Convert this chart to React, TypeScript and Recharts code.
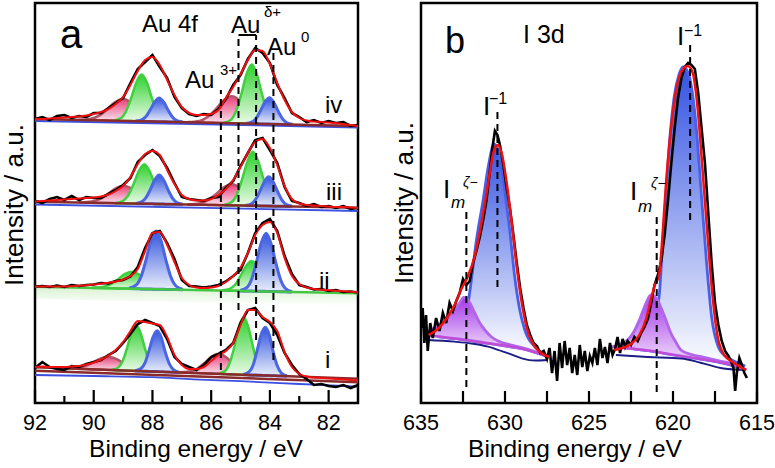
import React from 'react';
import { ComposedChart, Area, Line, XAxis, YAxis, ReferenceLine, ReferenceArea } from 'recharts';

const FONT = '"Liberation Sans", Arial, Helvetica, sans-serif';

// ---------- Panel a: Au 4f ----------
const gridA = [92, 91.75, 91.5, 91.25, 91, 90.75, 90.5, 90.25, 90, 89.75, 89.5, 89.25, 89, 88.75, 88.5, 88.25, 88, 87.75, 87.5, 87.25, 87, 86.75, 86.5, 86.25, 86, 85.75, 85.5, 85.25, 85, 84.75, 84.5, 84.25, 84, 83.75, 83.5, 83.25, 83, 82.75, 82.5, 82.25, 82, 81.75, 81.5, 81.25, 81];
const ticksA = [92, 91, 90, 89, 88, 87, 86, 85, 84, 83, 82];
const majorA = [92, 90, 88, 86, 84, 82];

const ivFit = [284, 284, 284.5, 285, 285.5, 286, 286.5, 287.5, 289, 291, 294, 299, 306, 318, 332, 343, 346, 338, 323, 308, 296, 290, 288, 288, 289, 293, 305, 316, 329, 343, 353, 352, 339, 320, 303, 291, 285, 282.5, 281.5, 281, 280.5, 280, 279, 278, 277];
const ivData = [284, 286, 283, 287, 288, 285, 287, 286, 290, 290, 295, 300, 305, 320, 334, 341, 348, 336, 325, 306, 295, 289, 287, 289, 288, 294, 304, 318, 328, 344, 355, 350, 340, 318, 305, 290, 286, 281, 283, 280, 282, 280, 281, 277, 278];
const iiiFit = [201.5, 202, 202.5, 203, 203.5, 204, 204.5, 205, 205.5, 206.5, 208.5, 212, 217, 226, 239, 249, 252, 248, 233, 219, 208, 204, 202.5, 202.5, 204, 208, 214, 223, 236, 250, 261, 264, 255, 238, 217, 204, 199.5, 198, 197.5, 197, 196.5, 196, 196, 195.5, 195];
const iiiData = [202, 200, 204, 206, 203, 207, 203, 206, 205, 205, 209, 213, 218, 225, 241, 248, 253, 247, 235, 220, 206, 204, 203, 202, 205, 206, 215, 222, 237, 250, 263, 265, 253, 240, 216, 202, 200, 197, 199, 196, 197, 195, 197, 194, 195];
const iiFit = [116.5, 116.5, 116.5, 116.5, 116.5, 116.8, 117.2, 117.8, 118.5, 119.3, 120.2, 121.5, 123.5, 127, 134, 152, 170, 171, 158, 141, 125, 118, 115.5, 115, 115.5, 117, 121, 127, 135.5, 150, 168, 178, 181, 170, 145, 127, 119, 115.5, 114, 113.3, 112.8, 112.3, 111.8, 111.3, 110.8];
const iiData = [116.5, 117, 116, 117.5, 116, 118, 117, 118, 118.5, 120, 119.5, 122, 123, 126.5, 136, 155, 170, 172, 160, 144, 123, 117, 116.5, 115.5, 116.5, 118, 121.5, 127, 133, 150, 170, 180, 184, 172, 147, 129, 118, 116, 113.5, 114, 112, 113, 111, 111.5, 110.5];
const iFit = [36, 36.5, 36, 36, 36, 36.5, 37, 38.5, 40.5, 43.5, 47.5, 53, 61, 72, 82, 81, 79.5, 78, 66, 48, 38, 34, 34, 36, 42, 48, 52, 60, 78, 93, 93, 86, 81, 72, 51, 36, 29, 26.5, 25.5, 25, 24.5, 24, 23.5, 23, 22.5];
const iData = [35, 41, 36, 34, 33, 37, 36, 39, 41, 43, 48, 52, 60, 69, 79, 83, 80, 77, 64, 46, 39, 36, 33, 38, 46, 49, 53, 60, 80, 93, 95, 85, 80, 68, 50, 38, 29, 24, 18, 19, 17, 16, 18, 15, 18];

// baselines [eV, value]
const ivBrown = [[92, 284], [81, 277]];
const ivBlueBg = [[92, 282], [81, 275.5]];
const iiiBrown = [[92, 201.3], [81, 195.3]];
const iiiBlueBg = [[92, 198.5], [81, 192]];
const iiGreenBg = [[92, 116.3], [81, 109.7]];
const iiBand = [[92, 104, 116.3], [81, 97.5, 109.7]];
const iBrown1 = [[92, 35.7], [81, 24.2]];
const iBrown2 = [[92, 32.3], [81, 20.8]];
const iBlueBg = [[92, 28], [90, 27], [88, 25.8], [86.6, 23.7], [85, 21.8], [83, 19], [81.5, 17], [81, 16.3]];

// components [eV, low, high]
const ivPink1 = [[90.5, 283, 283.1], [90.1, 282.8, 284.2], [89.8, 282.6, 287.6], [89.55, 282.4, 293.4], [89.3, 282.3, 300.3], [89.0, 282.1, 304.1], [88.7, 281.9, 299.9], [88.45, 281.7, 292.7], [88.2, 281.6, 286.6], [87.9, 281.4, 282.8], [87.5, 281.1, 281.2]];
const ivGreen1 = [[89.32, 282.3, 282.6], [89.07, 282.1, 285], [88.9, 282, 291.8], [88.72, 281.9, 305.3], [88.55, 281.8, 320.6], [88.37, 281.7, 328.4], [88.19, 281.6, 320.4], [88.02, 281.5, 304.9], [87.84, 281.4, 291.2], [87.67, 281.3, 284.2], [87.42, 281.1, 281.4]];
const ivBlue1 = [[88.57, 281.8, 281.95], [88.37, 281.7, 283.2], [88.22, 281.6, 286.6], [88.07, 281.5, 293.4], [87.92, 281.4, 301.2], [87.77, 281.3, 305.1], [87.62, 281.2, 301], [87.47, 281.1, 293], [87.32, 281, 286], [87.17, 280.9, 282.4], [86.97, 280.8, 280.95]];
const ivPink2 = [[86.8, 280.7, 280.9], [86.4, 280.4, 282.1], [86.1, 280.3, 286.5], [85.85, 280.1, 293.6], [85.6, 279.9, 302], [85.3, 279.7, 306.7], [85.0, 279.5, 301.6], [84.75, 279.4, 292.9], [84.5, 279.2, 285.4], [84.2, 279, 280.7], [83.8, 278.8, 279]];
const ivGreen2 = [[85.57, 279.9, 280.3], [85.32, 279.7, 283.4], [85.15, 279.6, 292.1], [84.97, 279.5, 309.2], [84.8, 279.4, 328.6], [84.62, 279.3, 338.6], [84.44, 279.2, 328.4], [84.27, 279.1, 308.8], [84.09, 279, 291.5], [83.92, 278.9, 282.6], [83.67, 278.7, 279.1]];
const ivBlue2 = [[84.82, 279.4, 279.56], [84.62, 279.3, 280.95], [84.47, 279.2, 284.7], [84.32, 279.1, 292.3], [84.17, 279, 300.9], [84.02, 278.9, 305.3], [83.87, 278.8, 300.7], [83.72, 278.7, 291.9], [83.57, 278.6, 284.1], [83.42, 278.5, 280.15], [83.22, 278.4, 278.56]];

const iiiPink1 = [[90.48, 200.5, 200.6], [90.08, 200.3, 201.4], [89.78, 200.1, 204.1], [89.53, 200, 208.8], [89.28, 199.8, 214.2], [88.98, 199.7, 217.3], [88.68, 199.5, 213.9], [88.43, 199.4, 208.2], [88.18, 199.2, 203.2], [87.88, 199.1, 200.2], [87.48, 198.8, 198.9]];
const iiiGreen1 = [[89.26, 199.8, 200], [89.0, 199.7, 202.2], [88.82, 199.6, 207.9], [88.64, 199.5, 219.2], [88.46, 199.4, 232.1], [88.28, 199.3, 238.7], [88.1, 199.2, 231.9], [87.92, 199.1, 218.8], [87.74, 199, 207.3], [87.56, 198.9, 201.4], [87.3, 198.8, 199]];
const iiiBlue1 = [[88.57, 199.4, 199.6], [88.37, 199.3, 201.1], [88.22, 199.2, 205.3], [88.07, 199.2, 213.7], [87.92, 199.1, 223.2], [87.77, 199, 228], [87.62, 198.9, 223], [87.47, 198.8, 213.3], [87.32, 198.8, 204.9], [87.17, 198.7, 200.5], [86.97, 198.6, 198.8]];
const iiiPink2 = [[86.8, 198.5, 198.6], [86.4, 198.2, 199.5], [86.1, 198.1, 203], [85.85, 197.9, 208.5], [85.6, 197.8, 215.1], [85.3, 197.6, 218.7], [85.0, 197.5, 214.8], [84.75, 197.3, 207.9], [84.5, 197.2, 202.1], [84.2, 197, 198.3], [83.8, 196.8, 196.9]];
const iiiGreen2 = [[85.56, 197.8, 198.1], [85.3, 197.6, 201], [85.12, 197.5, 208.8], [84.94, 197.4, 224.4], [84.76, 197.3, 242.1], [84.58, 197.2, 251.2], [84.4, 197.1, 241.9], [84.22, 197, 224], [84.04, 196.9, 208.2], [83.86, 196.8, 200.2], [83.6, 196.7, 197]];
const iiiBlue2 = [[84.84, 197.4, 197.6], [84.64, 197.2, 199], [84.49, 197.2, 203.4], [84.34, 197.1, 211.8], [84.19, 197, 221.3], [84.04, 196.9, 226.2], [83.89, 196.9, 221.2], [83.74, 196.8, 211.5], [83.59, 196.7, 202.9], [83.44, 196.6, 198.4], [83.24, 196.5, 196.7]];

const iiGreen1 = [[90.05, 115.1, 115.2], [89.7, 114.9, 116], [89.45, 114.8, 118.4], [89.2, 114.6, 123.1], [88.95, 114.5, 128.8], [88.7, 114.3, 131.3], [88.45, 114.2, 128.5], [88.2, 114, 122.5], [87.95, 113.9, 117.5], [87.7, 113.7, 114.8], [87.35, 113.5, 113.6]];
const iiBlue1 = [[88.8, 114.4, 114.75], [88.56, 114.2, 117.8], [88.39, 114.1, 126.3], [88.22, 114, 143.1], [88.05, 113.9, 162.8], [87.88, 113.8, 172], [87.71, 113.7, 162.6], [87.54, 113.6, 142.7], [87.37, 113.5, 125.7], [87.2, 113.4, 117], [86.96, 113.3, 113.65]];
const iiGreen2 = [[85.62, 112.5, 112.7], [85.37, 112.3, 114.2], [85.18, 112.2, 118.5], [85.0, 112.1, 127.1], [84.81, 112, 137.1], [84.62, 111.9, 142], [84.43, 111.8, 136.9], [84.24, 111.6, 126.6], [84.06, 111.5, 117.8], [83.87, 111.4, 113.3], [83.62, 111.3, 111.5]];
const iiBlue2 = [[85.01, 112.1, 112.45], [84.78, 112, 115.6], [84.62, 111.9, 124.1], [84.46, 111.8, 140.8], [84.29, 111.7, 160.5], [84.13, 111.6, 169.7], [83.97, 111.5, 160.3], [83.8, 111.4, 140.4], [83.64, 111.3, 123.5], [83.48, 111.2, 114.8], [83.25, 111, 111.35]];

const iPink1 = [[91, 34.6, 34.7], [90.6, 34.2, 35], [90.3, 33.9, 36.9], [90.05, 33.6, 40.2], [89.8, 33.4, 44.2], [89.5, 33.1, 46.3], [89.2, 32.8, 43.6], [88.95, 32.5, 39.1], [88.7, 32.2, 35.2], [88.4, 31.9, 32.7], [88.0, 31.5, 31.6]];
const iGreen1 = [[89.36, 32.9, 33.2], [89.16, 32.7, 35.6], [89.01, 32.6, 42.2], [88.86, 32.4, 55.4], [88.71, 32.2, 70.8], [88.56, 32.1, 78], [88.41, 31.9, 70.5], [88.26, 31.8, 54.8], [88.11, 31.6, 41.2], [87.96, 31.5, 34.4], [87.76, 31.3, 31.6]];
const iBlue1 = [[88.58, 32.1, 32.35], [88.39, 31.9, 34.5], [88.25, 31.8, 40.4], [88.12, 31.6, 52.1], [87.98, 31.5, 65.9], [87.84, 31.4, 72.3], [87.7, 31.2, 65.6], [87.57, 31.1, 51.6], [87.43, 30.9, 39.5], [87.29, 30.8, 33.4], [87.1, 30.6, 30.85]];
const iPink2 = [[87.09, 30.6, 30.7], [86.74, 30.2, 31.5], [86.49, 29.9, 34.1], [86.24, 29.7, 39.7], [85.99, 29.4, 46.3], [85.74, 29.2, 49.3], [85.49, 28.9, 45.8], [85.24, 28.6, 38.6], [84.99, 28.4, 32.6], [84.74, 28.1, 29.4], [84.39, 27.8, 27.9]];
const iGreen2 = [[85.73, 29.2, 29.5], [85.51, 28.9, 32.5], [85.36, 28.8, 40.9], [85.2, 28.6, 57.3], [85.05, 28.4, 76.6], [84.89, 28.3, 85.7], [84.74, 28.1, 76.3], [84.58, 28, 56.7], [84.43, 27.8, 39.9], [84.27, 27.6, 31.2], [84.05, 27.4, 27.7]];
const iBlue2 = [[84.9, 28.3, 28.6], [84.71, 28.1, 31.1], [84.57, 28, 38.1], [84.44, 27.8, 51.9], [84.3, 27.7, 68.2], [84.16, 27.5, 75.7], [84.02, 27.4, 67.9], [83.89, 27.3, 51.4], [83.75, 27.1, 37.2], [83.61, 27, 30], [83.42, 26.8, 27.1]];

// dashed markers [eV, yFrom, yTo]
const dashA = [[85.67, 33, 313], [85.07, 93, 368], [84.47, 63, 368], [83.88, 43, 350]];
const bracketA = [[85.07, 368], [84.47, 368]];

// ---------- Panel b: I 3d ----------
const ticksB = [635, 632.5, 630, 627.5, 625, 622.5, 620, 617.5, 615];
const majorB = [635, 630, 625, 620, 615];

const bData = [[635, 75], [634.9, 95], [634.8, 60], [634.7, 88], [634.6, 52], [634.45, 80], [634.3, 65], [634.1, 85], [633.9, 72], [633.7, 90], [633.5, 80], [633.3, 100], [633.1, 92], [632.9, 102], [632.7, 110], [632.5, 124], [632.3, 118], [632.1, 122], [631.9, 140], [631.7, 152], [631.5, 166], [631.3, 183], [631.1, 203], [630.9, 232], [630.75, 255], [630.6, 272], [630.45, 268], [630.3, 258], [630.1, 238], [629.9, 215], [629.7, 194], [629.5, 168], [629.3, 140], [629.1, 115], [628.9, 95], [628.7, 78], [628.5, 68], [628.3, 60], [628.1, 57], [627.9, 50], [627.7, 52], [627.5, 44], [627.35, 55], [627.2, 30], [627.05, 52], [626.9, 22], [626.75, 60], [626.6, 35], [626.45, 62], [626.3, 38], [626.15, 55], [626.0, 30], [625.85, 48], [625.7, 28], [625.55, 58], [625.4, 36], [625.25, 52], [625.1, 32], [624.95, 47], [624.8, 40], [624.65, 55], [624.5, 38], [624.35, 64], [624.2, 45], [624.05, 56], [623.9, 40], [623.75, 60], [623.6, 48], [623.45, 54], [623.3, 66], [623.15, 50], [623.0, 64], [622.85, 56], [622.7, 62], [622.5, 58], [622.3, 66], [622.1, 62], [621.9, 70], [621.7, 76], [621.5, 84], [621.3, 100], [621.1, 118], [620.9, 128], [620.7, 142], [620.5, 168], [620.3, 202], [620.1, 240], [619.9, 275], [619.7, 305], [619.5, 325], [619.3, 336], [619.1, 340], [618.9, 338], [618.7, 334], [618.5, 310], [618.3, 275], [618.1, 240], [617.9, 190], [617.7, 140], [617.5, 100], [617.3, 78], [617.1, 62], [616.9, 52], [616.7, 47], [616.55, 42], [616.4, 35], [616.3, 12], [616.2, 30], [616.05, 45], [615.9, 38], [615.75, 30], [615.6, 25]];
const bRedL = [[634.55, 68], [634.0, 74], [633.5, 84], [633.0, 98], [632.6, 114], [632.2, 127], [631.8, 147], [631.4, 180], [631.0, 220], [630.7, 250], [630.45, 258], [630.2, 250], [629.9, 220], [629.6, 180], [629.3, 136], [629.0, 100], [628.7, 75], [628.2, 56], [627.35, 46]];
const bRedR = [[623.5, 53], [623.0, 55], [622.5, 59], [622.0, 68], [621.6, 84], [621.3, 104], [621.1, 117], [620.83, 128], [620.63, 166], [620.43, 216], [620.13, 273], [619.73, 320], [619.4, 334], [619.13, 337], [618.84, 331], [618.54, 296], [618.24, 233], [617.94, 166], [617.64, 106], [617.34, 66], [616.95, 48], [616.35, 40], [615.65, 33]];
const bBlueL = [[634.0, 66.5, 66.6], [633.4, 65.1, 67.5], [632.9, 64.3, 76], [632.5, 63.5, 88], [632.2, 62.8, 100], [631.95, 62.2, 130], [631.7, 61.5, 163], [631.3, 60.5, 203], [631.0, 59.7, 236], [630.65, 58.9, 259], [630.32, 58, 246], [630.02, 57.2, 213], [629.72, 56.4, 173], [629.42, 55.6, 126], [629.12, 54.8, 93], [628.82, 53.8, 73], [628.23, 50.8, 56.3], [627.45, 46.3, 47]];
const bPurpleL = [[634.6, 68, 71], [634.2, 67, 75], [633.8, 66, 80], [633.4, 65.1, 86], [633.0, 64.5, 93], [632.7, 64, 100], [632.45, 63.4, 105.7], [632.2, 62.8, 103], [631.8, 61.8, 90], [631.5, 61, 80], [631.2, 60.2, 73], [630.8, 59.2, 66], [630.4, 58.2, 62], [629.5, 55.8, 57.5], [628.5, 52, 53], [627.45, 46.3, 47]];
const bBlueR = [[622.3, 54, 54.1], [621.8, 53, 58], [621.4, 52.2, 70], [621.1, 51.5, 88], [620.83, 50.8, 106], [620.63, 50.2, 156], [620.43, 49.4, 206], [620.23, 49, 256], [619.93, 48.1, 306], [619.65, 47.4, 328], [619.4, 46.7, 336], [619.15, 46.1, 332], [618.9, 45.4, 316], [618.6, 44.7, 273], [618.3, 43.8, 206], [618.0, 43, 140], [617.7, 42.1, 86], [617.3, 40.8, 56], [616.9, 39.4, 47], [616.5, 37.5, 43], [615.7, 33.5, 37]];
const bPurpleR = [[623.6, 56.3, 56.4], [623.2, 55.6, 58], [622.7, 54.7, 63], [622.3, 54, 72], [622.0, 53.4, 83], [621.6, 52.7, 100], [621.32, 52.1, 108], [621.0, 51.2, 105], [620.73, 50.4, 96], [620.4, 49.4, 82], [620.13, 48.6, 70], [619.8, 47.8, 60], [619.53, 47, 53], [618.9, 45.4, 48.5], [618.34, 44, 46.3], [617.2, 41, 42], [616.15, 36, 38], [615.65, 33, 33.1]];
const bMagL = [[634.6, 68], [633.0, 64.5], [631.0, 59.7], [629.0, 54.5], [628.0, 49.5], [627.45, 46.3]];
const bMagR = [[623.6, 56.3], [621.5, 52.5], [619.9, 48], [618, 43], [616.95, 39.7], [615.65, 33]];
const bNavyL = [[634.6, 63], [633.0, 61.3], [632.0, 59.5], [631.0, 56.3], [630.3, 52.5], [629.8, 49.7], [629.0, 44.7], [628.2, 42.5], [627.45, 43]];
const bNavyR = [[623.4, 48], [621.5, 46], [619.5, 44.5], [618.3, 40], [617.0, 34.5], [615.65, 33]];
const dashB = [[632.3, 16, 191], [630.45, 116, 291], [618.98, 183, 360], [620.97, 11, 186]];

// ---------- helpers ----------
const xy = (a: number[][]) => a.map(([x, y]) => ({ x, y }));
const rg = (a: number[][]) => a.map(([x, lo, hi]) => ({ x, r: [lo, hi] }));
const onGrid = (g: number[], v: number[]) => g.map((x, i) => ({ x, y: v[i] }));

const peak = (key: string, arr: number[][], fill: string, stroke: string, sw = 2.5) => (
  <Area key={key} data={rg(arr)} dataKey="r" type="monotone" fill={fill} fillOpacity={1}
    stroke={stroke} strokeWidth={sw} dot={false} activeDot={false} isAnimationActive={false} />
);
const curve = (key: string, data: any[], color: string, w: number, type: any = 'linear') => (
  <Line key={key} data={data} dataKey="y" type={type} stroke={color} strokeWidth={w}
    dot={false} activeDot={false} isAnimationActive={false} />
);
const dashes = (prefix: string, arr: number[][]) => arr.map(([x, y1, y2], i) => (
  <ReferenceLine key={prefix + i} segment={[{ x, y: y1 }, { x, y: y2 }]} stroke="#000"
    strokeWidth={2} strokeDasharray="7 5" />
));

const makeTick = (majors: number[], lenMajor: number, lenMinor: number) => (props: any) => {
  const { x, y, payload } = props;
  const v = payload.value;
  const major = majors.includes(v);
  return (
    <g>
      <line x1={x} x2={x} y1={y} y2={y - (major ? lenMajor : lenMinor)} stroke="#000" strokeWidth={2.2} />
      {major && (
        <text x={x} y={y + 27} textAnchor="middle" fontSize={21.5} fontFamily={FONT} fill="#000">{v}</text>
      )}
    </g>
  );
};

const PINK_S = '#b0566a', GREEN_S = '#3fcf3f', BLUE_S = '#4b66e3';
const RED = '#f01010', BROWN = '#8a2a2a', BGBLUE = '#3b4fe0';

function PanelA() {
  return (
    <ComposedChart width={390} height={468} margin={{ top: 3, right: 32, bottom: 0, left: 35 }}>
      <defs>
        <linearGradient id="aPink" x1="0" y1="0" x2="0" y2="1">
          <stop offset="0" stopColor="#e8407a" />
          <stop offset="1" stopColor="#fde8f0" />
        </linearGradient>
        <linearGradient id="aGreen" x1="0" y1="0" x2="0" y2="1">
          <stop offset="0" stopColor="#2fd12f" />
          <stop offset="1" stopColor="#ecfbe9" />
        </linearGradient>
        <linearGradient id="aBlue" x1="0" y1="0" x2="0" y2="1">
          <stop offset="0" stopColor="#3355dd" />
          <stop offset="1" stopColor="#e9eefb" />
        </linearGradient>
        <linearGradient id="aBand" x1="0" y1="0" x2="0" y2="1">
          <stop offset="0" stopColor="#bfeab2" />
          <stop offset="1" stopColor="#ffffff" />
        </linearGradient>
      </defs>
      <XAxis dataKey="x" type="number" domain={[81, 92]} reversed allowDataOverflow height={65}
        ticks={ticksA} interval={0} tickSize={0} tickMargin={0} axisLine={false} tickLine={false}
        tick={makeTick(majorA, 13, 7)} />
      <YAxis type="number" domain={[0, 400]} hide allowDataOverflow />

      <Area data={rg(iiBand)} dataKey="r" type="linear" fill="url(#aBand)" stroke="none" isAnimationActive={false} dot={false} activeDot={false} />

      {peak('ivp1', ivPink1, 'url(#aPink)', PINK_S)}
      {peak('ivg1', ivGreen1, 'url(#aGreen)', GREEN_S)}
      {peak('ivb1', ivBlue1, 'url(#aBlue)', BLUE_S, 3)}
      {peak('ivp2', ivPink2, 'url(#aPink)', PINK_S)}
      {peak('ivg2', ivGreen2, 'url(#aGreen)', GREEN_S)}
      {peak('ivb2', ivBlue2, 'url(#aBlue)', BLUE_S, 3)}

      {peak('iiip1', iiiPink1, 'url(#aPink)', PINK_S)}
      {peak('iiig1', iiiGreen1, 'url(#aGreen)', GREEN_S)}
      {peak('iiib1', iiiBlue1, 'url(#aBlue)', BLUE_S, 3)}
      {peak('iiip2', iiiPink2, 'url(#aPink)', PINK_S)}
      {peak('iiig2', iiiGreen2, 'url(#aGreen)', GREEN_S)}
      {peak('iiib2', iiiBlue2, 'url(#aBlue)', BLUE_S, 3)}

      {peak('iig1', iiGreen1, 'url(#aGreen)', GREEN_S)}
      {peak('iib1', iiBlue1, 'url(#aBlue)', BLUE_S, 3)}
      {peak('iig2', iiGreen2, 'url(#aGreen)', GREEN_S)}
      {peak('iib2', iiBlue2, 'url(#aBlue)', BLUE_S, 3)}

      {peak('ip1', iPink1, 'url(#aPink)', PINK_S)}
      {peak('ig1', iGreen1, 'url(#aGreen)', GREEN_S)}
      {peak('ib1', iBlue1, 'url(#aBlue)', BLUE_S, 3)}
      {peak('ip2', iPink2, 'url(#aPink)', PINK_S)}
      {peak('ig2', iGreen2, 'url(#aGreen)', GREEN_S)}
      {peak('ib2', iBlue2, 'url(#aBlue)', BLUE_S, 3)}

      {curve('ivbg', xy(ivBlueBg), BGBLUE, 1.8)}
      {curve('ivbr', xy(ivBrown), BROWN, 2.5)}
      {curve('iiibg', xy(iiiBlueBg), BGBLUE, 1.8)}
      {curve('iiibr', xy(iiiBrown), BROWN, 2.5)}
      {curve('iigr', xy(iiGreenBg), '#44c844', 2.5)}
      {curve('ibg', xy(iBlueBg), BGBLUE, 1.8, 'monotone')}
      {curve('ibr2', xy(iBrown2), BROWN, 2.5)}
      {curve('ibr1', xy(iBrown1), BROWN, 2.5)}

      {curve('ivd', onGrid(gridA, ivData), '#000', 2.6)}
      {curve('iiid', onGrid(gridA, iiiData), '#000', 2.6)}
      {curve('iid', onGrid(gridA, iiData), '#000', 2.6)}
      {curve('id', onGrid(gridA, iData), '#000', 2.6)}

      {curve('ivf', onGrid(gridA, ivFit), RED, 2, 'monotone')}
      {curve('iiif', onGrid(gridA, iiiFit), RED, 2, 'monotone')}
      {curve('iif', onGrid(gridA, iiFit), RED, 2, 'monotone')}
      {curve('if', onGrid(gridA, iFit), RED, 2, 'monotone')}

      {dashes('da', dashA)}
      <ReferenceLine segment={bracketA.map(([x, y]) => ({ x, y }))} stroke="#000" strokeWidth={2} />
      <ReferenceArea x1={92} x2={81} y1={0} y2={400} fill="none" stroke="#000" strokeWidth={2.5} ifOverflow="visible" />
    </ComposedChart>
  );
}

function PanelB() {
  return (
    <ComposedChart width={385} height={468} margin={{ top: 3, right: 18, bottom: 0, left: 31 }}>
      <defs>
        <linearGradient id="bBlue" x1="0" y1="0" x2="0" y2="1">
          <stop offset="0" stopColor="#3352e2" />
          <stop offset="1" stopColor="#ffffff" />
        </linearGradient>
        <linearGradient id="bPurple" x1="0" y1="0" x2="0" y2="1">
          <stop offset="0" stopColor="#a136e6" />
          <stop offset="1" stopColor="#fbf0ff" />
        </linearGradient>
      </defs>
      <XAxis dataKey="x" type="number" domain={[615, 635]} reversed allowDataOverflow height={65}
        ticks={ticksB} interval={0} tickSize={0} tickMargin={0} axisLine={false} tickLine={false}
        tick={makeTick(majorB, 12, 12)} />
      <YAxis type="number" domain={[0, 400]} hide allowDataOverflow />

      {peak('bbl', bBlueL, 'url(#bBlue)', '#4a5fe6', 2.8)}
      {peak('bpl', bPurpleL, 'url(#bPurple)', '#b066ea', 2.8)}
      {peak('bbr', bBlueR, 'url(#bBlue)', '#4a5fe6', 2.8)}
      {peak('bpr', bPurpleR, 'url(#bPurple)', '#b066ea', 2.8)}

      {curve('bnl', xy(bNavyL), '#1c1c86', 1.8, 'monotone')}
      {curve('bnr', xy(bNavyR), '#1c1c86', 1.8, 'monotone')}
      {curve('bml', xy(bMagL), '#c24ad6', 2.2, 'monotone')}
      {curve('bmr', xy(bMagR), '#c24ad6', 2.2, 'monotone')}

      {curve('bd', xy(bData), '#000', 2.6)}
      {curve('brl', xy(bRedL), RED, 2.5, 'monotone')}
      {curve('brr', xy(bRedR), RED, 2.5, 'monotone')}

      {dashes('db', dashB)}
      <ReferenceArea x1={635} x2={615} y1={0} y2={400} fill="none" stroke="#000" strokeWidth={2.5} ifOverflow="visible" />
    </ComposedChart>
  );
}

const T = (p: any) => <text fontFamily={FONT} fill="#000" {...p} />;

export default function App() {
  return (
    <div style={{ position: 'absolute', left: 0, top: 0, width: 775, height: 468, background: '#fff', overflow: 'hidden' }}>
      <div style={{ position: 'absolute', left: 0, top: 0 }}><PanelA /></div>
      <div style={{ position: 'absolute', left: 390, top: 0 }}><PanelB /></div>
      <svg width={775} height={468} style={{ position: 'absolute', left: 0, top: 0, pointerEvents: 'none' }}>
        <T x={60} y={48} fontSize={40}>a</T>
        <T x={142} y={32} fontSize={24}>Au 4f</T>
        <T x={231} y={33} fontSize={24}>Au</T>
        <T x={264} y={17} fontSize={15}>δ+</T>
        <T x={267} y={55} fontSize={24}>Au</T>
        <T x={301} y={42} fontSize={15}>0</T>
        <T x={185} y={88} fontSize={24}>Au</T>
        <T x={220} y={75} fontSize={15}>3+</T>
        <T x={325} y={113} fontSize={24}>iv</T>
        <T x={326} y={200} fontSize={24}>iii</T>
        <T x={319} y={289} fontSize={24}>ii</T>
        <T x={325} y={368} fontSize={24}>i</T>
        <T transform="translate(23,205) rotate(-90)" textAnchor="middle" fontSize={26}>Intensity / a.u.</T>
        <T x={196} y={457} textAnchor="middle" fontSize={24.5}>Binding energy / eV</T>

        <T x={445} y={53} fontSize={36}>b</T>
        <T x={523} y={43} fontSize={25}>I 3d</T>
        <T x={483} y={115} fontSize={26}>I</T>
        <T x={489} y={104} fontSize={16}>−1</T>
        <T x={677} y={45} fontSize={26}>I</T>
        <T x={684} y={36} fontSize={16}>−1</T>
        <T x={443} y={198} fontSize={26}>I</T>
        <T x={451} y={208} fontSize={17} fontStyle="italic">m</T>
        <T x={463} y={187} fontSize={14} fontStyle="italic">ζ−</T>
        <T x={630} y={200} fontSize={26}>I</T>
        <T x={638} y={212} fontSize={17} fontStyle="italic">m</T>
        <T x={651} y={188} fontSize={14} fontStyle="italic">ζ−</T>
        <T transform="translate(413,203) rotate(-90)" textAnchor="middle" fontSize={26}>Intensity / a.u.</T>
        <T x={575} y={457} textAnchor="middle" fontSize={24.5}>Binding energy / eV</T>
      </svg>
    </div>
  );
}
